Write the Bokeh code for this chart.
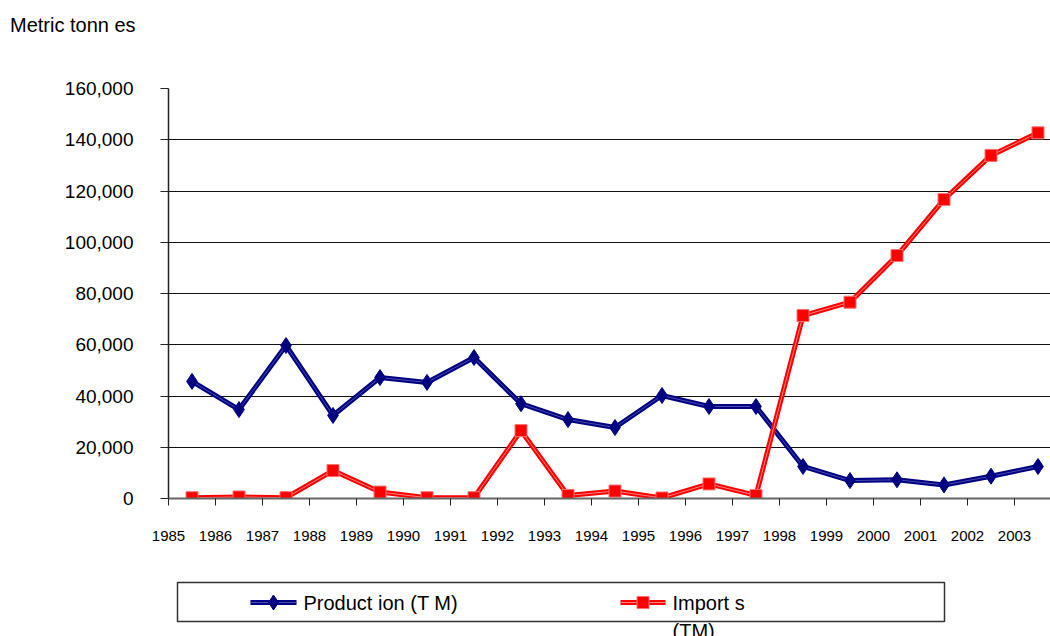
from bokeh.plotting import figure
from bokeh.layouts import column
from bokeh.models import Range1d, NumeralTickFormatter, FixedTicker, Div
from bokeh.embed import file_html
from bokeh.resources import INLINE
from bokeh.core.properties import value

# ---- data ----
years = [str(y) for y in range(1985, 2004)]
production = [45700, 34700, 59700, 32400, 47200, 45300, 55000, 37000, 30800, 27700,
              40200, 35900, 35900, 12500, 7000, 7300, 5300, 8700, 12500]
imports = [300, 600, 300, 10900, 2500, 300, 300, 26500, 1200, 2900,
           200, 5700, 1200, 71400, 76600, 94800, 116700, 133900, 142700]
y_ticks = [0, 20000, 40000, 60000, 80000, 100000, 120000, 140000, 160000]
y_title = "Metric tonn es"
prod_label = "Product ion (T M)"
imp_label_1 = "Import s"
imp_label_2 = "(TM)"

FONT = "Liberation Sans"
NAVY = "#000080"
RED = "#ff0000"
W = 1050
LEFT = 168

# ---- header (axis title) ----
hdr = Div(text=y_title, width=W, height=60, margin=(0, 0, 0, 0),
          styles={"font-family": "'Liberation Sans', Arial, sans-serif", "font-size": "20px",
                  "line-height": "50px", "padding-left": "10px", "color": "#000000",
                  "box-sizing": "border-box"})

# ---- main chart ----
xs = [i + 0.5 for i in range(len(years))]
p = figure(width=W, height=500, x_range=Range1d(0, (W - LEFT) / 47), y_range=Range1d(0, 160000),
           min_border_left=LEFT, min_border_right=0, min_border_top=28, min_border_bottom=62,
           toolbar_location=None, output_backend="svg", margin=(0, 0, 0, 0))
p.outline_line_color = None
p.xgrid.visible = False
p.ygrid.grid_line_color = "#111111"
p.ygrid.grid_line_width = 1
p.ygrid.ticker = FixedTicker(ticks=y_ticks)

p.yaxis.ticker = FixedTicker(ticks=y_ticks)
p.yaxis.formatter = NumeralTickFormatter(format="0,0")
p.yaxis.major_tick_out = 8
p.yaxis.major_tick_in = 0
p.yaxis.minor_tick_line_color = None
p.yaxis.axis_line_color = "#222222"
p.yaxis.axis_line_width = 1.5
p.yaxis.major_tick_line_color = "#222222"
p.yaxis.major_label_standoff = 27
p.yaxis.major_label_text_font = FONT
p.yaxis.major_label_text_font_size = "19px"
p.yaxis.major_label_text_color = "#000000"

p.xaxis.ticker = FixedTicker(ticks=list(range(len(years))))
p.xaxis.major_label_overrides = {i: y for i, y in enumerate(years)}
p.xaxis.major_tick_out = 7
p.xaxis.major_tick_in = 0
p.xaxis.minor_tick_line_color = None
p.xaxis.axis_line_color = "#666666"
p.xaxis.axis_line_width = 2
p.xaxis.major_tick_line_color = "#222222"
p.xaxis.major_label_standoff = 25
p.xaxis.major_label_text_font = FONT
p.xaxis.major_label_text_font_size = "15px"
p.xaxis.major_label_text_color = "#000000"

# production
p.line(xs, production, line_color=NAVY, line_width=5)
p.line(xs, production, line_color="#4a4ab0", line_width=1)
p.scatter(xs, production, marker="diamond", size=16, fill_color=NAVY, line_color=NAVY)
# imports
p.line(xs, imports, line_color=RED, line_width=5)
p.line(xs, imports, line_color="#ff8080", line_width=1)
p.scatter(xs, imports, marker="square", size=12, fill_color=RED, line_color="#ff7070", line_width=1)

# ---- legend ----
lg = figure(width=W, height=76, x_range=Range1d(LEFT, W), y_range=Range1d(0, 76),
            min_border_left=LEFT, min_border_right=0, min_border_top=0, min_border_bottom=0,
            toolbar_location=None, output_backend="svg", margin=(0, 0, 0, 0),
            x_axis_location=None, y_axis_location=None)
lg.grid.visible = False
lg.outline_line_color = None
lg.quad(left=[177], right=[944], bottom=[15], top=[54], fill_color="white",
        line_color="#333333", line_width=1.5)
lg.line([250, 296], [34, 34], line_color=NAVY, line_width=5)
lg.line([250, 296], [34, 34], line_color="#4a4ab0", line_width=1)
lg.scatter([273], [34], marker="diamond", size=15, fill_color=NAVY, line_color=NAVY)
lg.text(x=[303], y=[34], text=[prod_label], text_font=value(FONT), text_font_size="20px",
        text_baseline="middle", text_align="left", text_color="#000000")
lg.line([620, 665], [34, 34], line_color=RED, line_width=5)
lg.line([620, 665], [34, 34], line_color="#ff8080", line_width=1)
lg.scatter([642.5], [34], marker="square", size=12, fill_color=RED, line_color="#ff7070")
lg.text(x=[672], y=[34], text=[imp_label_1], text_font=value(FONT), text_font_size="20px",
        text_baseline="middle", text_align="left", text_color="#000000")
lg.text(x=[672], y=[17], text=[imp_label_2], text_font=value(FONT), text_font_size="20px",
        text_baseline="top", text_align="left", text_color="#000000")

layout = column(hdr, p, lg, spacing=0, margin=(0, 0, 0, 0))
open("out.html", "w").write(file_html(layout, INLINE))
